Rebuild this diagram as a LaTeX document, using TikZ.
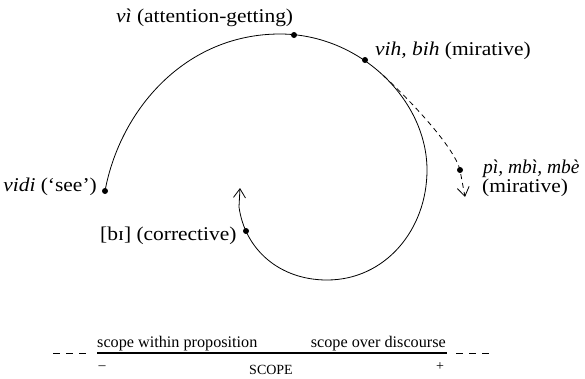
\documentclass[tikz,border=0pt]{standalone}
\usepackage{fontspec}
\setmainfont{Liberation Serif}
\newfontfamily\lblfont[FakeStretch=1.1]{Liberation Serif}
\usetikzlibrary{arrows.meta}
\begin{document}
\begin{tikzpicture}[x=1pt,y=-1pt,
  lbl/.style={inner sep=0pt,font=\lblfont\fontsize{19.5}{21}\selectfont},
  lblsm/.style={inner sep=0pt,font=\fontsize{19.5}{21}\selectfont},
  small/.style={inner sep=0pt,font=\fontsize{16.2}{18}\selectfont},
  tiny/.style={inner sep=0pt,font=\fontsize{14}{15}\selectfont},
  pt/.style={circle,fill=black,inner sep=0pt,minimum size=6pt},
  curve/.style={line width=0.8pt},
  barb/.style={-{Straight Barb[length=9pt,width=12pt,line width=0.8pt]}}]
\useasboundingbox (0,0) rectangle (585,378);

% points on the spiral
\node[pt] (dvidi) at (105,191) {};
\node[pt] (dvi)   at (294,35) {};
\node[pt] (dvih)  at (365,60) {};
\node[pt] (dbi)   at (246,231) {};
\node[pt] (dpi)   at (460,170) {};

% labels
\node[lbl,anchor=base west] (lvi)   at (116,22)  {\textit{vì} (attention-getting)};
\node[lbl,anchor=base west] (lvih)  at (375,55)  {\textit{vih, bih} (mirative)};
\node[lbl,anchor=base east] (lvidi) at (97,191)  {\textit{vidi} (‘see’)};
\node[lbl,anchor=base west] (lbi)   at (100,240) {[bɪ] (corrective)};
\node[lblsm,anchor=base west] (lpi) at (483,173) {\textit{pì, mbì, mbè}};
\node[lbl,anchor=base west] (lmir)  at (482,192) {(mirative)};

% the spiral, winding inwards clockwise
\draw[curve,barb] (dvidi.center)
  .. controls (120,110) and (185,34) .. (280,34)
  .. controls (360,34) and (427,100) .. (427,170)
  .. controls (427,230) and (385,280) .. (327,280)
  .. controls (280,280) and (245,250) .. (239,207)
  -- (240,188);

% dashed branch leaving the spiral
\draw[curve,dash pattern=on 5pt off 4pt,barb] (384,76)
  .. controls (420,110) and (455,150) .. (dpi.center) -- (465,197);

% scope axis
\coordinate (al) at (97,353);
\coordinate (ar) at (447,353);
\coordinate (el) at (53,353);
\coordinate (er) at (490,353);
\draw[line width=1.1pt] (al) -- (ar);
\draw[line width=0.8pt,dash pattern=on 7pt off 6pt] (el) -- ([xshift=-8pt]al);
\draw[line width=0.8pt,dash pattern=on 7pt off 6pt] ([xshift=9pt]ar) -- (er);
\node[small,anchor=base west] (sw) at (97,347)  {scope within proposition};
\node[small,anchor=base east] (so) at (446,347) {scope over discourse};
\node[tiny] (minus) at (102,368) {–};
\node[tiny] (plus)  at (440,367) {+};
\node[tiny,anchor=base] (scope) at (271,374) {SCOPE};
\end{tikzpicture}
\end{document}
